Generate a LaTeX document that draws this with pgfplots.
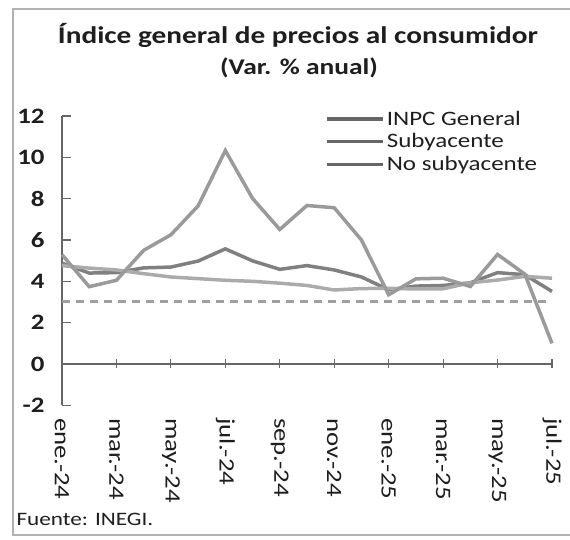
\documentclass[border=0pt]{standalone}
\usepackage{fontspec}
\setmainfont{Carlito}[FakeStretch=1.22]
\usepackage{pgfplots}
\pgfplotsset{compat=1.18}
\definecolor{inpc}{HTML}{808080}
\definecolor{suby}{HTML}{ABABAB}
\definecolor{nosuby}{HTML}{9A9A9A}
\definecolor{txt}{HTML}{1E1E1E}
\begin{document}
\begin{tikzpicture}[x=1pt,y=1pt]
\useasboundingbox (0,0) rectangle (570,539);
\draw[gray!60, line width=1.5pt] (571,530) -- (13,530) -- (13,4) -- (571,4);
\node[font=\fontsize{24}{28}\selectfont\bfseries, text=txt] at (298,504) {Índice general de precios al consumidor};
\node[font=\fontsize{22.5}{26}\selectfont\bfseries, text=txt] at (299,471) {(Var. \% anual)};
\node[font=\fontsize{19}{22}\selectfont, text=txt, anchor=west] at (13,20) {Fuente: INEGI.};
\begin{axis}[
  at={(62pt,133.7pt)}, anchor=south west, scale only axis,
  width=490pt, height=289.3pt,
  xmin=0, xmax=18, ymin=-2, ymax=12,
  axis x line*=middle, axis y line*=left,
  hide obscured x ticks=false, hide obscured y ticks=false,
  axis line style={draw=gray!80!black, line width=1.2pt},
  xtick={0,2,...,18},
  xticklabels={ene.-24,mar.-24,may.-24,jul.-24,sep.-24,nov.-24,ene.-25,mar.-25,may.-25,jul.-25},
  ytick={-2,0,2,4,6,8,10,12},
  yticklabels={-2,0,2,4,6,8,10,12},
  xtick align=center, ytick align=inside,
  major tick length=9pt,
  tick style={draw=gray!80!black, line width=1.2pt},
  x tick label style={rotate=-90, anchor=west, font=\fontsize{22}{26}\selectfont, text=txt},
  xticklabel shift=46pt,
  y tick label style={font=\fontsize{22}{26}\selectfont\bfseries, text=txt},
  yticklabel shift=14pt,
  legend style={draw=none, fill=none, at={(0.537,1.025)}, anchor=north west,
    font=\fontsize{20.5}{23}\selectfont, text=txt, row sep=3pt, inner sep=0pt},
  legend cell align=left,
  legend image code/.code={\draw[#1, draw=black!60, line width=3.5pt] (0pt,0pt) -- (56pt,0pt);},
  clip=false,
]
\addplot[forget plot, draw=gray!75, line width=3pt, dash pattern=on 8pt off 6pt] coordinates {(0,3) (18,3)};
\addplot[inpc, line width=3.5pt] coordinates {
(0,4.88) (1,4.40) (2,4.42) (3,4.65) (4,4.69) (5,4.98) (6,5.57) (7,4.99) (8,4.58) (9,4.76)
(10,4.55) (11,4.21) (12,3.59) (13,3.77) (14,3.80) (15,3.93) (16,4.42) (17,4.32) (18,3.51)};
\addlegendentry{INPC General}
\addplot[suby, line width=3.5pt] coordinates {
(0,4.76) (1,4.64) (2,4.55) (3,4.37) (4,4.21) (5,4.13) (6,4.05) (7,4.00) (8,3.91) (9,3.80)
(10,3.58) (11,3.65) (12,3.66) (13,3.63) (14,3.64) (15,3.93) (16,4.06) (17,4.24) (18,4.15)};
\addlegendentry{Subyacente}
\addplot[nosuby, line width=3.5pt] coordinates {
(0,5.29) (1,3.74) (2,4.05) (3,5.50) (4,6.25) (5,7.65) (6,10.33) (7,8.01) (8,6.51) (9,7.67)
(10,7.56) (11,6.00) (12,3.35) (13,4.12) (14,4.15) (15,3.75) (16,5.30) (17,4.35) (18,1.0)};
\addlegendentry{No subyacente}
\end{axis}
\end{tikzpicture}
\end{document}
